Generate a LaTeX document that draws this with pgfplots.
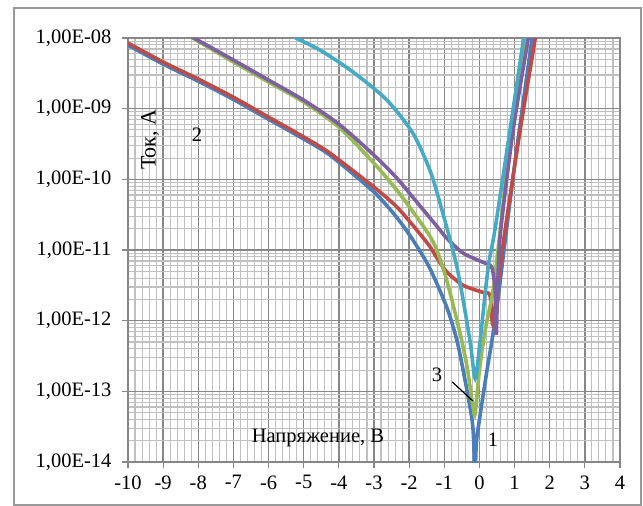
\documentclass[border=0pt]{standalone}
\usepackage{pgfplots}
\pgfplotsset{compat=1.18}
\usepackage{fontspec}
\setmainfont{Liberation Serif}

\definecolor{c1}{HTML}{4A7EBB}
\definecolor{c2}{HTML}{BE4B48}
\definecolor{c3}{HTML}{98B954}
\definecolor{c4}{HTML}{7D60A0}
\definecolor{c5}{HTML}{46AAC5}
\definecolor{majgrid}{HTML}{878787}
\definecolor{mingrid}{HTML}{C0C0C0}

\begin{document}
\begin{tikzpicture}
\path[use as bounding box] (-128pt,-44pt) rectangle (515pt,462pt);
\draw[line width=1.4pt, color=black!40] (-114pt,-43pt) rectangle (513pt,454pt);
\begin{axis}[
    scale only axis,
    width=492pt, height=424pt,
    ymode=log,
    xmin=-10, xmax=4,
    ymin=1e-14, ymax=1e-8,
    xtick={-10,-9,...,4},
    xticklabels={-10,-9,-8,-7,-6,-5,-4,-3,-2,-1,0,1,2,3,4},
    ytick={1e-14,1e-13,1e-12,1e-11,1e-10,1e-9,1e-8},
    yticklabels={{1,00E-14},{1,00E-13},{1,00E-12},{1,00E-11},{1,00E-10},{1,00E-09},{1,00E-08}},
    minor x tick num=4,
    grid=both,
    major grid style={majgrid, line width=1.4pt},
    minor grid style={mingrid, line width=1.1pt},
    axis line style={majgrid, line width=1.4pt},
    tick align=outside,
    major tick length=6pt,
    minor tick length=0pt,
    tick style={majgrid, line width=1.2pt},
    xtick pos=bottom, ytick pos=left,
    ticklabel style={font=\fontsize{20.5}{22}\selectfont},
    xticklabel style={yshift=-4pt},
    yticklabel style={anchor=east, xshift=-7pt},
    every axis plot/.append style={line width=3.6pt, no markers, smooth, tension=0.45},
]

% 1
\addplot[c1] coordinates {
(-10,7.94e-9) (-9,4.27e-9) (-8,2.45e-9) (-7,1.35e-9) (-6,7.08e-10) (-5,3.72e-10)
(-4.25,2.19e-10) (-3,6.61e-11) (-2.35,2.88e-11) (-1.89,1.38e-11) (-1.41,5.5e-12)
(-0.93,1.55e-12) (-0.64,5.25e-13) (-0.41,1.45e-13) (-0.21,3.98e-14) (-0.16,1.78e-14)
(-0.13,5.0e-15) (-0.09,1.78e-14) (0.0,3.98e-14) (0.2,1.78e-13) (0.35,5.0e-13)
(0.5,1.58e-12) (0.7,1.0e-11) (1.0,1.58e-10) (1.5,1.0e-8) (1.6,2.0e-8)
};
% 2
\addplot[c2] coordinates {
(-10,8.51e-9) (-9,4.57e-9) (-8,2.63e-9) (-7,1.45e-9) (-6,7.6e-10) (-5,3.98e-10)
(-4.25,2.34e-10) (-3,7.76e-11) (-2.35,4.07e-11) (-1.78,1.91e-11) (-1.41,1.12e-11)
(-1.2,7.6e-12) (-0.93,4.9e-12) (-0.46,3.16e-12) (0.1,2.51e-12) (0.3,2.29e-12)
(0.38,8.9e-13) (0.5,2.5e-12) (0.73,1.91e-11) (1.16,5.0e-10) (1.58,9.3e-9) (1.65,1.58e-8)
};
% 3
\addplot[c3] coordinates {
(-8.3,1.10e-8) (-7,4.57e-9) (-6,2.38e-9) (-5,1.24e-9) (-4,5.48e-10)
(-3,1.69e-10) (-2.35,7.03e-11) (-1.78,2.92e-11) (-1.41,1.57e-11) (-1.21,9.9e-12)
(-0.93,3.73e-12) (-0.55,6.6e-13) (-0.35,2.19e-13) (-0.18,5.9e-14) (-0.12,4.9e-14)
(0.0,2.0e-13) (0.16,7.2e-13) (0.39,2.69e-12) (0.55,1.26e-11) (0.92,5.0e-10)
(1.32,1.0e-8) (1.4,1.78e-8)
};
% 4
\addplot[c4] coordinates {
(-8.3,1.12e-8) (-7,4.88e-9) (-6,2.54e-9) (-5,1.32e-9) (-4,6.05e-10)
(-3,2.20e-10) (-2.35,1.04e-10) (-1.78,4.75e-11) (-1.21,2.17e-11) (-0.93,1.47e-11)
(-0.46,9.0e-12) (0.1,6.7e-12) (0.35,5.7e-12) (0.45,2.51e-12) (0.48,6.3e-13)
(0.52,3.16e-12) (0.6,1.78e-11) (0.96,5.0e-10) (1.38,9.3e-9) (1.45,1.58e-8)
};
% 5
\addplot[c5] coordinates {
(-5.4,1.1e-8) (-4.54,6.76e-9) (-3.6,3.31e-9) (-2.63,1.32e-9) (-1.89,4.47e-10)
(-1.41,1.35e-10) (-1.12,4.57e-11) (-0.64,5.75e-12) (-0.27,5.25e-13)
(-0.12,1.51e-13) (0.02,5.25e-13) (0.25,5.75e-12) (0.44,1.91e-11) (0.87,5.0e-10)
(1.25,9.3e-9) (1.32,1.58e-8)
};

\node[rotate=90, font=\fontsize{22}{24}\selectfont] at (rel axis cs:0.045,0.76) {Ток, А};
\node[font=\fontsize{20.5}{22}\selectfont] at (rel axis cs:0.386,0.057) {Напряжение, В};
\node[font=\fontsize{20.5}{22}\selectfont] at (rel axis cs:0.140,0.771) {2};
\node[font=\fontsize{20.5}{22}\selectfont] at (rel axis cs:0.628,0.205) {3};
\node[font=\fontsize{20.5}{22}\selectfont] at (rel axis cs:0.742,0.052) {1};
\draw[black, line width=1.2pt] (rel axis cs:0.659,0.189) -- (rel axis cs:0.701,0.144);
\end{axis}
\end{tikzpicture}
\end{document}
